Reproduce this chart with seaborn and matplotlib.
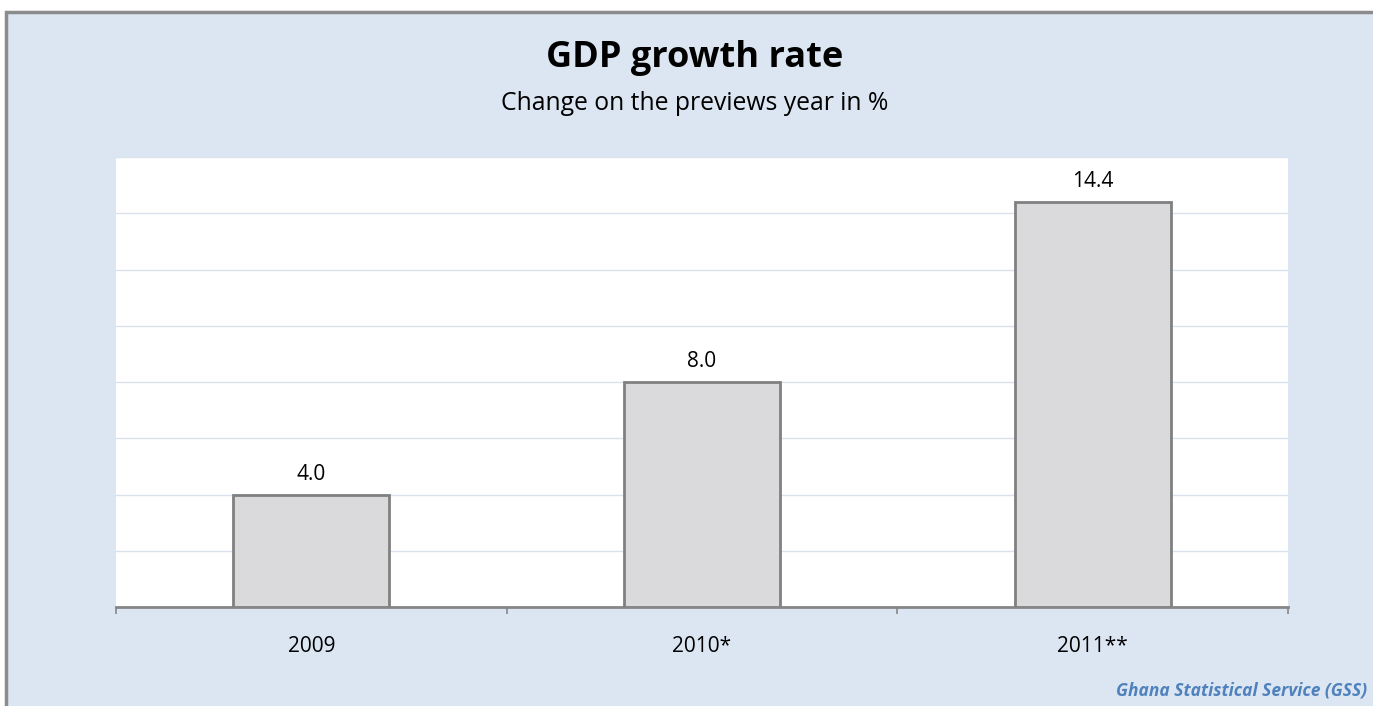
import matplotlib
matplotlib.use("Agg")
import matplotlib.pyplot as plt
import matplotlib.patches as mpatches
import seaborn as sns
import pandas as pd

# chart data
years = ["2009", "2010*", "2011**"]
growth = [4.0, 8.0, 14.4]
value_labels = ["4.0", "8.0", "14.4"]

TITLE = "GDP growth rate"
SUBTITLE = "Change on the previews year in %"
SOURCE = "Ghana Statistical Service (GSS)"

BG = "#dce6f2"


def main():
    sns.set_theme(style="white")
    plt.rcParams["font.family"] = ["Open Sans", "DejaVu Sans"]

    df = pd.DataFrame({"year": years, "growth": growth})

    fig = plt.figure(figsize=(13.73, 7.06), dpi=100, facecolor="white")
    W, H = 1373, 706

    # outer chart frame, kept behind the axes (right/bottom edges run off the image)
    frame = mpatches.Rectangle((6 / W, -0.01), 1.05, 1 - 12 / H + 0.01,
                               transform=fig.transFigure, facecolor=BG,
                               edgecolor="#8c8c8c", linewidth=2.5, zorder=-10)
    fig.patches.append(frame)

    ax = fig.add_axes([116 / W, 99 / H, (1288 - 116) / W, (607 - 157) / H])
    ax.set_facecolor("white")

    sns.barplot(data=df, x="year", y="growth", ax=ax, width=0.4,
                color="#dadadd", edgecolor="#808080", linewidth=2,
                saturation=1, zorder=3)

    ax.set_ylim(0, 16)
    ax.set_xlim(-0.5, 2.5)
    ax.set_yticks(range(0, 17, 2))
    ax.set_yticklabels([])
    ax.tick_params(axis="y", length=0)
    ax.grid(axis="y", color="#d9e1ec", linewidth=1, zorder=0)
    ax.set_axisbelow(True)

    ax.set_xticks([0, 1, 2])
    ax.set_xticklabels(years, fontsize=15, color="black")
    ax.set_xticks([-0.5, 0.5, 1.5, 2.5], minor=True)
    ax.tick_params(axis="x", which="major", length=0, pad=21)
    ax.tick_params(axis="x", which="minor", length=5, width=1.2,
                   color="#868686", direction="out", bottom=True)
    ax.set_xlabel("")
    ax.set_ylabel("")

    for side in ["top", "left", "right"]:
        ax.spines[side].set_visible(False)
    ax.spines["bottom"].set_color("#868686")
    ax.spines["bottom"].set_linewidth(2)

    for i, (v, lab) in enumerate(zip(growth, value_labels)):
        ax.annotate(lab, (i, v), xytext=(0, 7), textcoords="offset points",
                    ha="center", va="bottom", fontsize=15, color="black")

    fig.text(695 / W, 1 - 58 / H, TITLE, ha="center", va="center",
             fontsize=26, fontweight="bold", color="black")
    fig.text(695 / W, 1 - 103 / H, SUBTITLE, ha="center", va="center",
             fontsize=17.8, color="black")
    fig.text(1367 / W, 1 - 690 / H, SOURCE, ha="right", va="center",
             fontsize=12.5, fontweight="bold", fontstyle="italic",
             color="#4f81bd")

    fig.savefig("out.png", dpi=100, facecolor="white")
    plt.close(fig)


if __name__ == "__main__":
    main()
